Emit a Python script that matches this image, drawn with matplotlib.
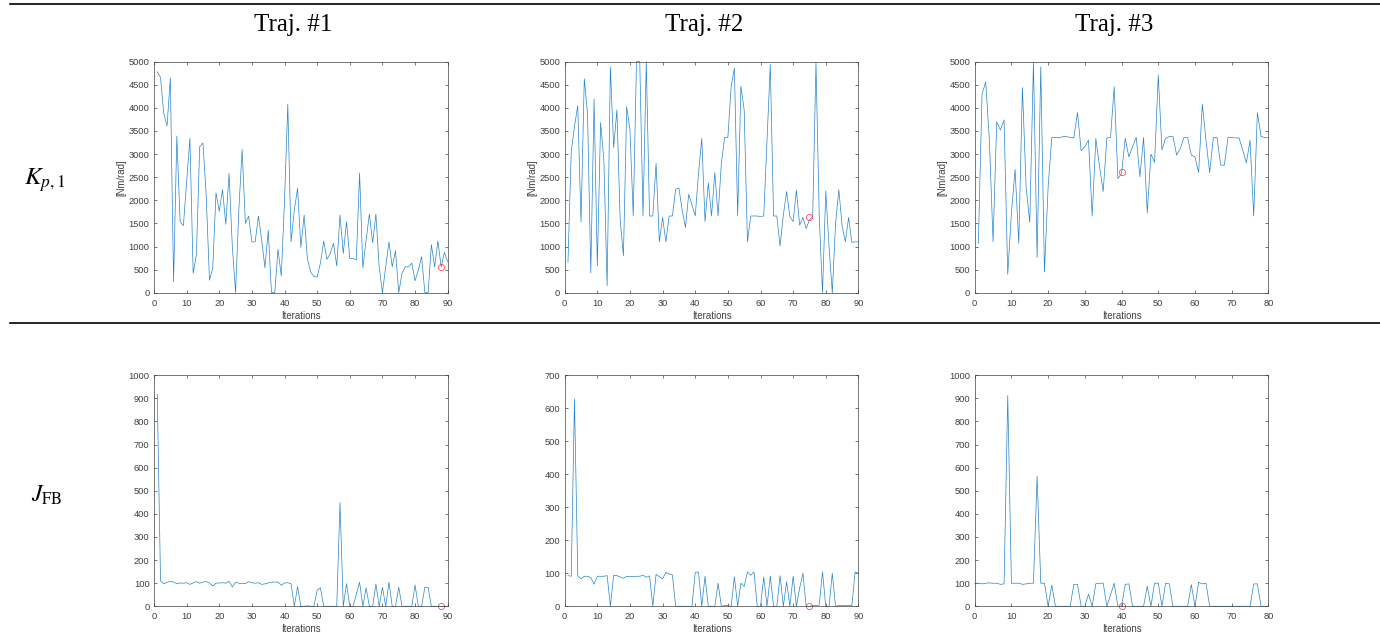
"""
Kp,1 and J_FB over the iterations, one column per trajectory.
MATLAB-like panels laid out as a table.
"""

import matplotlib
matplotlib.use("Agg")
import matplotlib.pyplot as plt
from matplotlib.lines import Line2D

plt.rcParams["font.family"] = ["Liberation Sans", "DejaVu Sans"]
plt.rcParams["mathtext.fontset"] = "stix"

# ===== data =====
TRAJ_NAMES = ["Traj. #1", "Traj. #2", "Traj. #3"]
ROW_NAMES = [r"$K_{p,1}$", r"$J_{\mathrm{FB}}$"]

KP_TRAJ1 = [4780, 4660, 3880, 3610, 4650, 240, 3390, 1540, 1450, 2400,
            3340, 420, 820, 3160, 3240, 2100, 270, 530, 2160, 1760,
            2230, 1480, 2580, 1000, 0, 1800, 3100, 1500, 1660, 1100,
            1100, 1660, 1140, 540, 1350, 0, 0, 940, 360, 2000,
            4080, 1100, 1790, 2260, 980, 1680, 740, 450, 350, 340,
            640, 1120, 720, 850, 1070, 580, 1680, 850, 1540, 740,
            740, 710, 2590, 540, 1140, 1700, 1080, 1700, 560, 0,
            560, 1100, 560, 910, 0, 420, 560, 560, 640, 260,
            490, 780, 0, 0, 1040, 560, 1120, 560, 870, 670]
KP_TRAJ2 = [660, 3050, 3600, 4050, 1530, 4630, 3880, 430, 4190, 580,
            3680, 2870, 150, 4880, 3140, 3960, 1570, 800, 4030, 3520,
            1660, 5000, 5000, 1660, 5000, 1660, 1660, 2800, 1100, 1630,
            1100, 1660, 1660, 2240, 2260, 1790, 1410, 2130, 1900, 1660,
            2580, 3340, 1540, 2380, 1660, 2600, 1660, 2800, 3360, 3360,
            4460, 4860, 1660, 4470, 3950, 1100, 1660, 1660, 1660, 1650,
            1660, 3300, 4940, 1660, 1660, 1010, 1680, 2190, 1650, 1540,
            2220, 1460, 1630, 1390, 1570, 1660, 4980, 1650, 0, 2200,
            1000, 0, 1500, 2230, 1450, 1100, 1630, 1090, 1100, 1100]
KP_TRAJ3 = [1070, 4300, 4560, 3300, 1100, 3700, 3520, 3740, 400, 1720,
            2670, 1070, 4440, 2290, 1520, 4990, 760, 4890, 450, 2290,
            3360, 3360, 3350, 3380, 3380, 3360, 3350, 3900, 3070, 3160,
            3300, 1660, 3340, 2730, 2190, 3350, 3360, 4460, 2470, 2580,
            3340, 2940, 3160, 3360, 2510, 3360, 1730, 3000, 2820, 4710,
            3090, 3340, 3380, 3380, 2980, 3120, 3360, 3360, 2980, 2940,
            2600, 4080, 3300, 2600, 3360, 3360, 2760, 2760, 3360, 3360,
            3350, 3350, 3090, 2810, 3300, 1660, 3900, 3380, 3360, 3350]

J_TRAJ1 = [918, 110, 97, 104, 107, 105, 98, 101, 100, 102,
           95, 101, 107, 100, 105, 107, 101, 88, 100, 101,
           102, 100, 108, 84, 104, 100, 98, 98, 107, 102,
           100, 102, 95, 97, 101, 104, 105, 105, 91, 101,
           102, 98, 0, 85, 0, 0, 2, 0, 0, 70,
           80, 0, 0, 0, 0, 0, 449, 0, 98, 0,
           0, 52, 104, 0, 80, 0, 0, 97, 0, 82,
           0, 104, 0, 0, 82, 0, 0, 0, 0, 92,
           0, 0, 82, 82, 0, 0, 0, 0, 0, 0]
J_TRAJ2 = [93, 91, 628, 93, 83, 91, 91, 87, 67, 91,
           91, 91, 93, 0, 94, 93, 89, 85, 91, 90,
           90, 91, 91, 94, 88, 92, 0, 97, 90, 83,
           103, 98, 95, 0, 0, 0, 0, 0, 0, 103,
           104, 0, 91, 0, 0, 0, 70, 0, 2, 2,
           0, 89, 0, 70, 60, 104, 94, 104, 0, 0,
           89, 0, 92, 0, 0, 93, 0, 75, 0, 91,
           0, 55, 100, 0, 0, 2, 2, 4, 104, 0,
           0, 100, 0, 2, 2, 2, 2, 2, 104, 100]
J_TRAJ3 = [100, 100, 97, 100, 101, 100, 100, 95, 97, 912,
           100, 100, 100, 95, 97, 100, 100, 563, 100, 100,
           0, 92, 0, 0, 0, 0, 0, 95, 95, 0,
           0, 53, 0, 98, 100, 100, 0, 50, 100, 0,
           0, 95, 97, 0, 0, 0, 0, 87, 0, 100,
           100, 0, 100, 97, 0, 0, 0, 0, 0, 94,
           0, 104, 97, 100, 0, 0, 0, 0, 0, 0,
           0, 0, 0, 0, 0, 0, 97, 97, 0, 0,
           0]

# selected iteration (red circle) per trajectory
BEST_ITER = [88, 75, 40]
BEST_KP = [550, 1640, 2610]
BEST_J = [0, 0, 0]

X_MAX = [90, 90, 80]
J_YMAX = [1000, 700, 1000]

LINE_COLOR = "#2484cb"
AXIS_COLOR = "#404040"


def draw_panel(ax, x, y, bx, by, xmax, ymax, ystep, ylabel=None):
    """One MATLAB-style panel."""
    ax.plot(x, y, color=LINE_COLOR, linewidth=0.5, clip_on=False)
    ax.plot(bx, by, "o", markerfacecolor="none", markeredgecolor="#ff3030",
            markersize=4.5, markeredgewidth=0.5, clip_on=False)
    ax.set_xlim(0, xmax)
    ax.set_ylim(0, ymax)
    ax.set_xticks(range(0, xmax + 1, 10))
    ax.set_yticks(range(0, ymax + 1, ystep))
    ax.tick_params(direction="in", length=2.5, width=0.5, labelsize=6.7,
                   colors=AXIS_COLOR, top=True, right=True)
    ax.tick_params(axis="x", pad=4.2)
    ax.tick_params(axis="y", pad=3.2)
    for sp in ax.spines.values():
        sp.set_color(AXIS_COLOR)
        sp.set_linewidth(0.5)
    ax.set_xlabel("Iterations", fontsize=6.9, color=AXIS_COLOR, labelpad=2.4)
    if ylabel:
        ax.set_ylabel(ylabel, fontsize=6.9, color=AXIS_COLOR, labelpad=1.5)


fig = plt.figure(figsize=(13.8, 6.33), dpi=100)

lefts = [154 / 1380, 564.7 / 1380, 974.7 / 1380]
width = 293.7 / 1380
height = 231 / 633
bottoms = [1 - 292.7 / 633, 1 - 606.3 / 633]

kp_all = [KP_TRAJ1, KP_TRAJ2, KP_TRAJ3]
j_all = [J_TRAJ1, J_TRAJ2, J_TRAJ3]

for c in range(3):
    # top row: Kp,1 (iterations start at 1)
    ax = fig.add_axes([lefts[c], bottoms[0], width, height])
    kp = kp_all[c]
    draw_panel(ax, range(1, len(kp) + 1), kp, BEST_ITER[c], BEST_KP[c],
               X_MAX[c], 5000, 500, ylabel="[Nm/rad]")

    # bottom row: J_FB
    ax = fig.add_axes([lefts[c], bottoms[1], width, height])
    jv = j_all[c]
    start = 1 if len(jv) == X_MAX[c] else 0
    draw_panel(ax, range(start, start + len(jv)), jv, BEST_ITER[c], BEST_J[c],
               X_MAX[c], J_YMAX[c], 100)

# column headers
title_x = [293, 704, 1114]
for name, tx in zip(TRAJ_NAMES, title_x):
    fig.text(tx / 1380, 1 - 25 / 633, name, ha="center", va="center",
             fontsize=18, family="Liberation Serif")

# row labels
fig.text(45 / 1380, 1 - 180 / 633, ROW_NAMES[0], ha="center", va="center",
         fontsize=18)
fig.text(47 / 1380, 1 - 495 / 633, ROW_NAMES[1], ha="center", va="center",
         fontsize=17)

# table rules
for yy in [3.5, 323]:
    fig.add_artist(Line2D([10 / 1380, 1], [1 - yy / 633] * 2,
                          transform=fig.transFigure, color="black",
                          linewidth=1.2))

fig.savefig("out.png", dpi=100)
